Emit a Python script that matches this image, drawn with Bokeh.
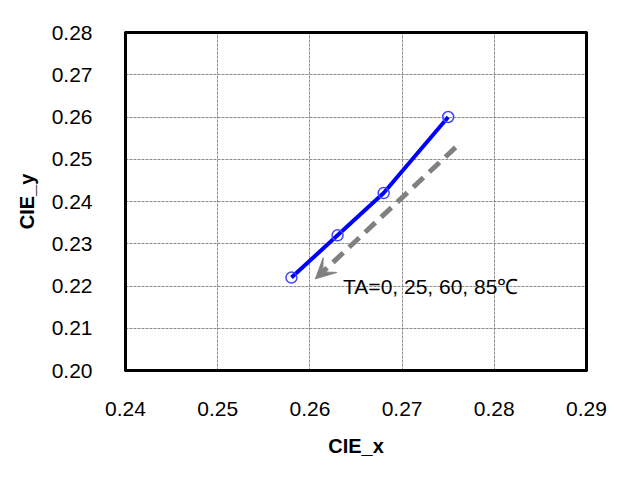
from bokeh.plotting import figure
from bokeh.models import Range1d, FixedTicker, NumeralTickFormatter, Arrow, VeeHead, Label, ColumnDataSource, LinearAxis
from bokeh.embed import file_html
from bokeh.resources import INLINE

# data
cie_x = [0.258, 0.263, 0.268, 0.275]
cie_y = [0.222, 0.232, 0.242, 0.260]
x_ticks = [0.24, 0.25, 0.26, 0.27, 0.28, 0.29]
y_ticks = [0.20, 0.21, 0.22, 0.23, 0.24, 0.25, 0.26, 0.27, 0.28]
arrow_start = (0.2758, 0.2528)
arrow_end = (0.2606, 0.2217)
note_text = "TA=0, 25, 60, 85\u2103"
note_pos = (0.2636, 0.2200)

p = figure(width=609, height=466, output_backend="svg", toolbar_location=None,
           x_range=Range1d(x_ticks[0], x_ticks[-1]), y_range=Range1d(y_ticks[0], y_ticks[-1]),
           min_border_left=125, min_border_right=23, min_border_top=32, min_border_bottom=96)

p.background_fill_color = "white"
p.border_fill_color = "white"
p.outline_line_color = "black"
p.outline_line_width = 3
p.outline_line_join = "round"

for ax in (p.xaxis[0], p.yaxis[0]):
    ax.axis_line_color = "black"
    ax.axis_line_width = 3
    ax.major_tick_line_color = None
    ax.minor_tick_line_color = None
    ax.major_label_text_font = "Liberation Sans"
    ax.major_label_text_font_size = "21px"
    ax.major_label_text_color = "black"
    ax.axis_label_text_font = "Liberation Sans"
    ax.axis_label_text_font_size = "20px"
    ax.axis_label_text_font_style = "bold"
    ax.axis_label_text_color = "black"
    ax.formatter = NumeralTickFormatter(format="0.00")

p.xaxis.ticker = FixedTicker(ticks=x_ticks)
p.yaxis.ticker = FixedTicker(ticks=y_ticks)
p.xaxis.axis_label = "CIE_x"
p.yaxis.axis_label = "CIE_y"
p.xaxis.major_label_standoff = 25
p.yaxis.major_label_standoff = 27
p.xaxis.axis_label_standoff = 16
p.yaxis.axis_label_standoff = 11

# frame edges on top and right
for loc in ("above", "right"):
    a = LinearAxis(axis_line_color="black", axis_line_width=3,
                   major_tick_line_color=None, minor_tick_line_color=None,
                   major_label_text_font_size="0px", major_label_text_color=None)
    p.add_layout(a, loc)

for g in (p.xgrid[0], p.ygrid[0]):
    g.grid_line_color = "#8c8c8c"
    g.grid_line_dash = "3 1"
    g.grid_line_width = 1

src = ColumnDataSource(data=dict(x=cie_x, y=cie_y))
p.line("x", "y", source=src, line_color="#0000ff", line_width=4)
p.scatter("x", "y", source=src, marker="circle", size=11, fill_color=None,
          line_color="#4444ff", line_width=1.5)

p.add_layout(Arrow(end=VeeHead(size=20, fill_color="#808080", line_color="#808080", line_width=1),
                   x_start=arrow_start[0], y_start=arrow_start[1],
                   x_end=arrow_end[0], y_end=arrow_end[1],
                   line_color="#808080", line_width=5, line_dash="14 8"))

p.add_layout(Label(x=note_pos[0], y=note_pos[1], text=note_text,
                   text_font="Liberation Sans", text_font_size="21px",
                   text_color="black", text_baseline="alphabetic"))

open("out.html", "w").write(file_html(p, INLINE))
